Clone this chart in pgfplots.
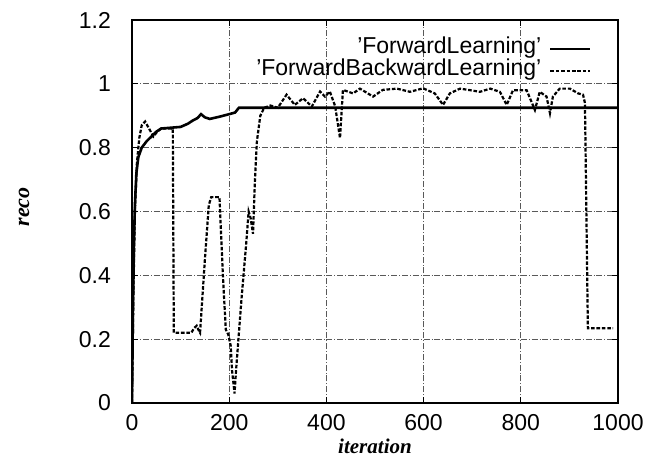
\documentclass[border=0pt]{standalone}
\usepackage{fontspec}
\setmainfont{Liberation Serif}
\setsansfont{Liberation Sans}
\usepackage{pgfplots}
\pgfplotsset{compat=1.18}
\begin{document}
\begin{tikzpicture}
\begin{axis}[
  at={(0,0)}, anchor=south west,
  scale only axis, width=243pt, height=191.5pt,
  xmin=0, xmax=1000, ymin=0, ymax=1.2,
  xtick={0,200,400,600,800,1000},
  xticklabels={0,200,400,600,800,1000},
  ytick={0,0.2,0.4,0.6,0.8,1,1.2},
  yticklabels={0,0.2,0.4,0.6,0.8,1,1.2},
  /pgf/number format/assume math mode=true,
  tick label style={font=\sffamily\fontsize{11.5}{12}\selectfont},
  xticklabel style={yshift=-2.2pt},
  yticklabel style={xshift=-7pt},
  tick align=inside, major tick length=3pt,
  tick style={black, line width=0.6pt},
  xtick pos=both, ytick pos=both,
  axis line style={line width=0.75pt},
  grid=major,
  major grid style={densely dashdotted, line width=0.35pt, black!65},
  xlabel={\bfseries\itshape iteration},
  every axis x label/.style={at={(axis description cs:0.5,0)}, anchor=center, yshift=-21.5pt, font=\fontsize{10.5}{12}\selectfont},
  ylabel={\bfseries\itshape reco},
  every axis y label/.style={at={(axis description cs:0,0.512)}, anchor=center, rotate=90, yshift=54pt, font=\fontsize{11}{12}\selectfont},
  legend style={draw=none, fill=none, at={(rel axis cs:0.959,0.965)}, anchor=north east,
    font=\sffamily\fontsize{11.5}{12}\selectfont,
    nodes={inner sep=0.5pt, text height=7.5pt, text depth=2.5pt},
    row sep=0pt},
  legend cell align=right,
  legend plot pos=right,
  legend image code/.code={\path[draw=none, fill=none] (0pt,0pt) -- (24pt,0pt); \draw[#1] (4pt,0pt) -- (24pt,0pt);},
]
\addplot[black, line width=1.3pt] coordinates {
(0,0) (2,0.3) (4,0.5) (6,0.62) (9,0.72) (13,0.77) (20,0.8) (30,0.82) (40,0.835) (50,0.85) (60,0.86) (100,0.865) (115,0.875) (125,0.885) (135,0.893) (142,0.905) (150,0.895) (160,0.89) (180,0.897) (200,0.905) (212,0.91) (220,0.925) (1000,0.925)
};
\addlegendentry{'ForwardLearning'}
\addplot[black, line width=1.1pt, dash pattern=on 1.8pt off 0.9pt] coordinates {
(0,0) (3,0.35) (6,0.6) (10,0.75) (15,0.83) (20,0.87) (27,0.882) (35,0.86) (44,0.835) (52,0.85) (60,0.86) (84,0.86) (86,0.22) (122,0.22) (128,0.235) (133,0.242) (138,0.225) (140,0.22) (150,0.45) (158,0.62) (163,0.645) (180,0.645) (187,0.4) (193,0.23) (198,0.215) (203,0.18) (206,0.1) (211,0.03) (214,0.1) (225,0.32) (235,0.5) (240,0.6) (244,0.58) (249,0.53) (253,0.7) (257,0.82) (264,0.9) (272,0.925) (285,0.932) (300,0.925) (318,0.966) (335,0.934) (352,0.955) (370,0.929) (387,0.976) (397,0.96) (407,0.976) (418,0.93) (428,0.83) (434,0.981) (455,0.97) (469,0.985) (496,0.96) (516,0.981) (545,0.985) (572,0.975) (599,0.986) (623,0.97) (640,0.934) (654,0.97) (675,0.985) (696,0.98) (716,0.975) (737,0.985) (757,0.975) (771,0.934) (784,0.98) (812,0.98) (829,0.918) (839,0.975) (853,0.96) (860,0.908) (866,0.96) (880,0.985) (901,0.985) (918,0.97) (928,0.966) (932,0.94) (938,0.234) (990,0.234)
};
\addlegendentry{'ForwardBackwardLearning'}
\end{axis}
\pgfresetboundingbox
\path (-66pt,-26pt) rectangle (262.5pt,201.5pt);
\end{tikzpicture}
\end{document}
